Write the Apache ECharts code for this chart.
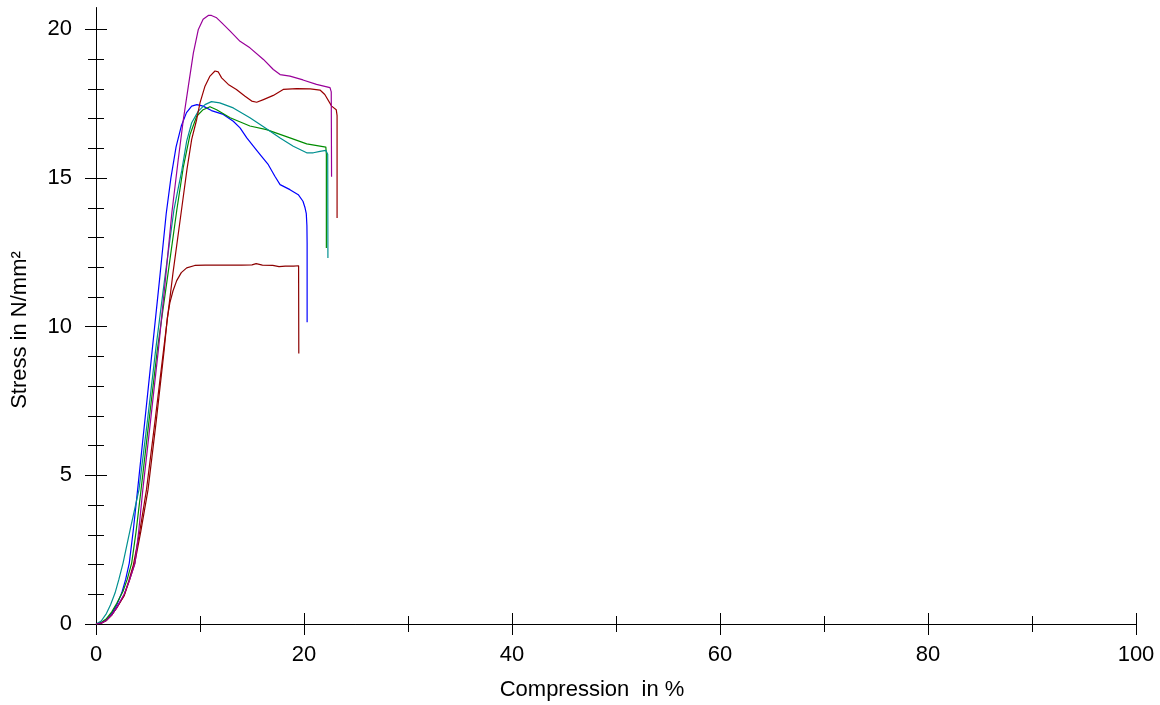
<!DOCTYPE html>
<html>
<head>
<meta charset="utf-8">
<title>Compression test</title>
<script src="https://cdn.jsdelivr.net/npm/echarts@6/dist/echarts.min.js"></script>
<style>
  html, body { margin: 0; padding: 0; background: #fff; }
  #chart { width: 1160px; height: 705px; }
</style>
</head>
<body>
<div id="chart"></div>
<script>
// Stress–compression curves, one per specimen: [compression %, stress N/mm²]
const specimenPurple = [
  [0,0],[0.5,0.03],[1,0.12],[1.5,0.3],[2,0.55],[2.7,1.0],[3.2,1.45],[3.75,2.05],[4.1,3.1],[4.5,4.51],
  [5.25,6.85],[6.0,9.23],[6.65,11.5],[7.3,13.85],[7.9,15.6],[8.4,16.97],[8.88,18.09],[9.36,19.2],
  [9.84,20.0],[10.3,20.34],[10.8,20.47],[11.1,20.47],[11.6,20.39],[12.1,20.22],[12.9,19.94],
  [13.85,19.6],[14.8,19.38],[16.1,18.99],[17.05,18.65],[17.7,18.48],[18.65,18.43],[19.9,18.3],
  [21.2,18.15],[22.5,18.04],[22.62,17.9],[22.65,15.04]
];
const specimenRedHigh = [
  [0,0],[0.5,0.03],[1,0.12],[1.5,0.3],[2,0.55],[2.7,0.95],[3.15,1.45],[3.6,2.0],[4.2,3.1],[4.85,4.51],
  [5.7,6.9],[6.5,9.23],[7.4,11.8],[8.25,14.0],[8.75,15.3],[9.2,16.3],[9.68,16.97],[10.0,17.53],
  [10.48,18.09],[10.96,18.43],[11.44,18.6],[11.76,18.57],[12.08,18.37],[12.72,18.15],[13.5,17.98],
  [14.3,17.76],[14.97,17.59],[15.45,17.55],[16.1,17.64],[17.05,17.78],[18.0,17.98],[19.3,18.01],
  [20.6,18.0],[21.54,17.96],[22.0,17.81],[22.66,17.42],[23.1,17.3],[23.18,17.1],[23.18,13.66]
];
const specimenTeal = [
  [0,0],[0.5,0.1],[1,0.35],[1.4,0.65],[1.83,1.04],[2.2,1.5],[2.6,2.05],[3.3,3.2],[4.13,4.51],
  [4.95,6.85],[5.74,9.23],[6.6,11.6],[7.5,13.95],[8.24,15.24],[8.72,16.24],[9.2,16.86],[9.84,17.25],
  [10.48,17.47],[11.1,17.57],[11.9,17.53],[13.2,17.36],[14.8,17.03],[16.25,16.69],[17.7,16.35],
  [18.97,16.07],[20.26,15.85],[20.9,15.85],[21.54,15.9],[22.1,15.93],[22.28,15.8],[22.3,12.31]
];
const specimenGreen = [
  [0,0],[0.5,0.05],[1,0.18],[1.5,0.4],[2,0.7],[2.6,1.1],[3.0,1.5],[3.43,2.05],[3.85,3.1],[4.33,4.51],
  [5.1,6.85],[5.9,9.23],[6.85,11.6],[7.78,13.95],[8.4,15.38],[9.04,16.46],[9.68,17.08],[10.3,17.3],
  [10.96,17.4],[11.6,17.3],[12.9,17.03],[14.8,16.75],[16.4,16.63],[18.65,16.35],[20.26,16.15],
  [22.1,16.04],[22.15,15.8],[22.15,12.65]
];
const specimenBlue = [
  [0,0],[0.5,0.04],[1,0.15],[1.5,0.35],[2,0.65],[2.47,1.04],[2.85,1.5],[3.2,2.05],[3.6,3.2],
  [4.0,4.51],[4.7,6.85],[5.41,9.23],[6.1,11.55],[6.75,13.8],[7.2,15.0],[7.7,16.05],[8.2,16.75],
  [8.7,17.2],[9.2,17.42],[9.7,17.47],[10.3,17.42],[11.1,17.27],[12.24,17.14],[13.2,16.91],
  [13.85,16.69],[14.5,16.35],[15.3,16.0],[15.9,15.74],[16.57,15.45],[17.2,15.06],[17.7,14.78],
  [18.65,14.61],[19.45,14.44],[19.9,14.22],[20.1,14.0],[20.22,13.8],[20.28,13.4],[20.3,12.8],[20.3,10.15]
];
const specimenRedLow = [
  [0,0],[0.5,0.03],[1,0.12],[1.5,0.3],[2,0.55],[2.7,0.95],[3.2,1.45],[3.7,2.0],[4.3,3.1],[5.0,4.51],
  [5.8,6.85],[6.55,9.2],[6.86,10.3],[7.1,10.8],[7.4,11.2],[7.76,11.55],[8.2,11.82],[8.72,11.98],
  [9.5,12.06],[10.5,12.07],[12,12.07],[14,12.07],[15.0,12.08],[15.4,12.12],[16,12.07],[17,12.06],
  [17.6,12.02],[18.2,12.04],[19,12.04],[19.48,12.05],[19.5,9.1]
];

const yMajorTicks = [0, 5, 10, 15, 20];
const yMinorTicks = [1, 2, 3, 4, 6, 7, 8, 9, 11, 12, 13, 14, 16, 17, 18, 19];
const xAxisTitle = 'Compression  in %';
const yAxisTitle = 'Stress in N/mm²';

const FONT = 'Liberation Sans, Arial, sans-serif';
const Y_MAX = 20.72;

const chart = echarts.init(document.getElementById('chart'), null, { renderer: 'canvas' });

function lineSeries(name, data, color) {
  return {
    name, type: 'line', data, color,
    showSymbol: false, symbol: 'none', smooth: false,
    lineStyle: { width: 1.2, color, join: 'round' },
    xAxisIndex: 0, yAxisIndex: 0,
    animation: false
  };
}

// x axes: drawn twice so the ticks cross the axis line (once inside, once outside)
function xAxisDef(inside, showLabel) {
  return {
    type: 'value', min: 0, max: 100, interval: 20, position: 'bottom',
    axisLine: { show: true, onZero: false, lineStyle: { color: '#000', width: 1 } },
    axisTick: { show: true, inside, length: 11, lineStyle: { color: '#000', width: 1 } },
    minorTick: { show: true, splitNumber: 2, length: 8, lineStyle: { color: '#000', width: 1 } },
    splitLine: { show: false }, minorSplitLine: { show: false },
    axisLabel: { show: showLabel, color: '#000', fontSize: 22, fontFamily: FONT, margin: 20 }
  };
}

function yAxisDef(inside, ticks, len, showLabel) {
  return {
    type: 'value', min: 0, max: Y_MAX, position: 'left',
    axisLine: { show: true, onZero: false, lineStyle: { color: '#000', width: 1 } },
    axisTick: { show: true, inside, length: len, customValues: ticks, lineStyle: { color: '#000', width: 1 } },
    splitLine: { show: false },
    axisLabel: { show: showLabel, customValues: yMajorTicks, color: '#000', fontSize: 22, fontFamily: FONT, margin: 24 }
  };
}

chart.setOption({
  backgroundColor: '#fff',
  animation: false,
  grid: { left: 96, right: 24, top: 8, bottom: 81, containLabel: false },
  xAxis: [xAxisDef(false, true), xAxisDef(true, false)],
  yAxis: [
    yAxisDef(false, yMajorTicks, 11, true),
    yAxisDef(true, yMajorTicks, 11, false),
    yAxisDef(false, yMinorTicks, 8, false),
    yAxisDef(true, yMinorTicks, 8, false)
  ],
  // axis titles
  graphic: [
    {
      type: 'text', x: 592, y: 690,
      style: { text: xAxisTitle, fill: '#000', font: '22px ' + FONT, align: 'center', verticalAlign: 'middle' }
    },
    {
      type: 'text', x: 20, y: 330, rotation: Math.PI / 2,
      style: { text: yAxisTitle, fill: '#000', font: '22px ' + FONT, align: 'center', verticalAlign: 'middle' }
    }
  ],
  series: [
    lineSeries('Specimen 1', specimenRedLow, '#8b0000'),
    lineSeries('Specimen 2', specimenBlue, '#0000ff'),
    lineSeries('Specimen 3', specimenGreen, '#008c00'),
    lineSeries('Specimen 4', specimenTeal, '#009090'),
    lineSeries('Specimen 5', specimenRedHigh, '#990000'),
    lineSeries('Specimen 6', specimenPurple, '#990099')
  ]
});
</script>
</body>
</html>
